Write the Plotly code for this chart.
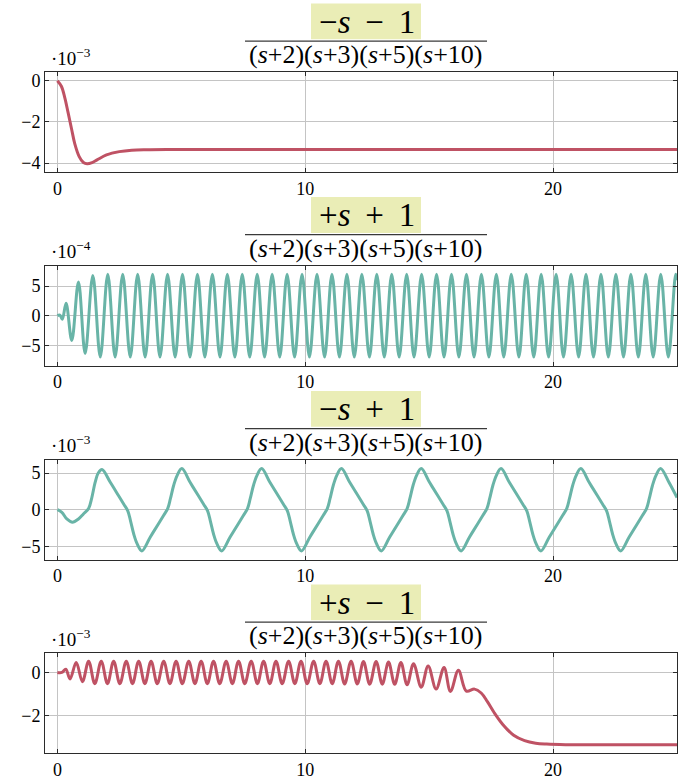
import plotly.graph_objects as go

# ---------------- data (y values in units of the axis multiplier) ----------------
# Plot 1 : (-s-1)/(...)   values x 1e-3
t1 = [0, 0.16, 0.3, 0.43, 0.57, 0.7, 0.88, 1.05, 1.2, 1.4, 1.6, 1.98, 2.5, 3.0, 3.6, 4.5, 6.0, 10.0, 15.0, 20.0, 25.0]
y1 = [0, -0.27, -0.83, -1.54, -2.33, -3.05, -3.68, -3.97, -4.03, -3.97, -3.84, -3.6, -3.44, -3.37, -3.345, -3.335, -3.333, -3.333, -3.333, -3.333, -3.333]

# Plot 2 : (+s+1)/(...)   values x 1e-4  (start, then peaks / troughs)
t2_start = [0, 0.1, 0.2, 0.35, 0.58, 0.85, 1.12]
y2_start = [0, 0.1, -0.6, 2.1, -4.2, 5.7, -6.4]
t2_peaks = [1.43, 2.033, 2.636, 3.239, 3.842, 4.445, 5.048, 5.651, 6.254, 6.857,
            7.46, 8.063, 8.666, 9.269, 9.872, 10.475, 11.078, 11.681, 12.284, 12.887,
            13.49, 14.093, 14.696, 15.299, 15.902, 16.505, 17.108, 17.711, 18.314, 18.917,
            19.52, 20.123, 20.726, 21.329, 21.932, 22.535, 23.138, 23.741, 24.344, 24.947]
y2_peaks = [6.8] + [7.0] * 39
t2_troughs = [1.73, 2.33, 2.94, 3.54, 4.14, 4.75, 5.35, 5.95, 6.56, 7.16,
              7.76, 8.36, 8.97, 9.57, 10.17, 10.78, 11.38, 11.98, 12.59, 13.19,
              13.79, 14.39, 15.00, 15.60, 16.20, 16.81, 17.41, 18.01, 18.62, 19.22,
              19.82, 20.42, 21.03, 21.63, 22.23, 22.84, 23.44, 24.04, 24.65]
y2_troughs = [-7.0] * 39
t2_end = [25.0]
y2_end = [6.0]

# Plot 3 : (-s+1)/(...)   values x 1e-3
t3 = [0, 0.18, 0.38, 0.61, 0.85, 1.05, 1.26, 1.39, 1.52, 1.65, 1.8,
      2.14, 2.47, 2.68, 2.84, 2.95, 3.08, 3.22, 3.41, 3.75, 4.08, 4.29, 4.45, 4.56, 4.69, 4.83, 5.02,
      5.36, 5.69, 5.90, 6.06, 6.17, 6.30, 6.44, 6.63, 6.97, 7.30, 7.51, 7.67, 7.78, 7.91, 8.05, 8.24,
      8.58, 8.91, 9.12, 9.28, 9.39, 9.52, 9.66, 9.85, 10.19, 10.52, 10.73, 10.89, 11.00, 11.13, 11.27, 11.46,
      11.80, 12.13, 12.34, 12.50, 12.61, 12.74, 12.88, 13.07, 13.41, 13.74, 13.95, 14.11, 14.22, 14.35, 14.49, 14.68,
      15.02, 15.35, 15.56, 15.72, 15.83, 15.96, 16.10, 16.29, 16.63, 16.96, 17.17, 17.33, 17.44, 17.57, 17.71, 17.90,
      18.24, 18.57, 18.78, 18.94, 19.05, 19.18, 19.32, 19.51, 19.85, 20.18, 20.39, 20.55, 20.66, 20.79, 20.93, 21.12,
      21.46, 21.79, 22.00, 22.16, 22.27, 22.40, 22.54, 22.73, 23.07, 23.40, 23.61, 23.77, 23.88, 24.01, 24.15, 24.34,
      24.68, 25.0]
y3 = [0, -0.36, -1.26, -1.7, -1.26, -0.58, 0.18, 1.66, 3.68, 5.0, 5.47,
      3.7, 1.9, 0.75, -0.15, -1.5, -3.3, -4.65, -5.6, -3.7, -1.9, -0.75, 0.15, 1.5, 3.3, 4.65, 5.6,
      3.7, 1.9, 0.75, -0.15, -1.5, -3.3, -4.65, -5.6, -3.7, -1.9, -0.75, 0.15, 1.5, 3.3, 4.65, 5.6,
      3.7, 1.9, 0.75, -0.15, -1.5, -3.3, -4.65, -5.6, -3.7, -1.9, -0.75, 0.15, 1.5, 3.3, 4.65, 5.6,
      3.7, 1.9, 0.75, -0.15, -1.5, -3.3, -4.65, -5.6, -3.7, -1.9, -0.75, 0.15, 1.5, 3.3, 4.65, 5.6,
      3.7, 1.9, 0.75, -0.15, -1.5, -3.3, -4.65, -5.6, -3.7, -1.9, -0.75, 0.15, 1.5, 3.3, 4.65, 5.6,
      3.7, 1.9, 0.75, -0.15, -1.5, -3.3, -4.65, -5.6, -3.7, -1.9, -0.75, 0.15, 1.5, 3.3, 4.65, 5.6,
      3.7, 1.9, 0.75, -0.15, -1.5, -3.3, -4.65, -5.6, -3.7, -1.9, -0.75, 0.15, 1.5, 3.3, 4.65, 5.6,
      3.7, 1.66]

# Plot 4 : (+s-1)/(...)   values x 1e-3
t4_start = [0, 0.18, 0.34, 0.51]
y4_start = [0, 0.0, 0.15, -0.3]
t4_peaks = [0.76, 1.26, 1.77, 2.27, 2.78, 3.28, 3.78, 4.29, 4.79, 5.30,
            5.80, 6.30, 6.81, 7.31, 7.82, 8.32, 8.82, 9.33, 9.83, 10.34,
            10.84, 11.34, 11.85, 12.35, 12.86, 13.36, 13.86, 14.37, 14.96, 15.6, 16.18]
y4_peaks = [0.46, 0.52, 0.52, 0.52, 0.52, 0.52, 0.52, 0.52, 0.52, 0.52,
            0.52, 0.52, 0.52, 0.52, 0.52, 0.52, 0.52, 0.52, 0.52, 0.52,
            0.52, 0.52, 0.52, 0.5, 0.5, 0.48, 0.46, 0.4, 0.3, 0.23, 0.1]
t4_troughs = [1.01, 1.51, 2.02, 2.52, 3.03, 3.53, 4.03, 4.54, 5.04, 5.55,
              6.05, 6.55, 7.06, 7.56, 8.07, 8.57, 9.07, 9.58, 10.08, 10.59,
              11.09, 11.59, 12.10, 12.60, 13.11, 13.61, 14.11, 14.68, 15.28, 15.86]
y4_troughs = [-0.43, -0.52, -0.52, -0.52, -0.52, -0.52, -0.52, -0.52, -0.52, -0.52,
              -0.52, -0.52, -0.52, -0.52, -0.52, -0.52, -0.52, -0.52, -0.52, -0.52,
              -0.52, -0.53, -0.53, -0.54, -0.54, -0.55, -0.57, -0.68, -0.77, -0.88]
t4_tail = [16.5, 16.83, 17.1, 17.35, 17.62, 17.97, 18.41, 18.85, 19.3, 19.74, 20.5, 22.0, 25.0]
y4_tail = [-0.86, -0.77, -0.95, -1.35, -1.85, -2.4, -2.9, -3.15, -3.27, -3.31, -3.335, -3.34, -3.34]

SP = "\u2009\u00a0"
numerators = ["−<i>s</i>" + SP + "−" + SP + "1", "+<i>s</i>" + SP + "+" + SP + "1",
              "−<i>s</i>" + SP + "+" + SP + "1", "+<i>s</i>" + SP + "−" + SP + "1"]
denominator = "(<i>s</i>+2)(<i>s</i>+3)(<i>s</i>+5)(<i>s</i>+10)"
exponents = ["−3", "−4", "−3", "−3"]
y_tickvals = [[-4, -2, 0], [-5, 0, 5], [-5, 0, 5], [-2, 0]]
y_ticktext = [["−4", "−2", "0"], ["−5", "0", "5"], ["−5", "0", "5"], ["−2", "0"]]
y_ranges = [[-4.43, 0.40], [-8.45, 8.4], [-6.78, 6.78], [-3.72, 0.88]]
x_tickvals = [0, 10, 20]
x_range = [-0.5, 25.0]

RED = "#bf5264"
TEAL = "#69b4a7"
colors = [RED, TEAL, TEAL, RED]


def merge(*pairs):
    pts = []
    for ts, ys in pairs:
        pts.extend(zip(ts, ys))
    pts.sort(key=lambda p: p[0])
    return [p[0] for p in pts], [p[1] for p in pts]


series = [
    (t1, y1),
    merge((t2_start, y2_start), (t2_peaks, y2_peaks), (t2_troughs, y2_troughs), (t2_end, y2_end)),
    (t3, y3),
    merge((t4_start, y4_start), (t4_peaks, y4_peaks), (t4_troughs, y4_troughs), (t4_tail, y4_tail)),
]

W, H = 685, 780
FONT = "Liberation Serif"
offsets = [0, 194.3, 389.0, 583.2]


def py(px):
    return (H - px) / H


def pxx(px):
    return px / W


fig = go.Figure()
shapes = []
annotations = []
layout = dict(width=W, height=H, autosize=False,
              margin=dict(l=0, r=0, t=0, b=0),
              paper_bgcolor="white", plot_bgcolor="white",
              showlegend=False)

for i in range(4):
    off = offsets[i]
    xs, ys = series[i]
    sfx = "" if i == 0 else str(i + 1)
    fig.add_trace(go.Scatter(x=xs, y=ys, mode="lines",
                             line=dict(color=colors[i], width=3, shape="spline", smoothing=1.0),
                             xaxis="x" + sfx, yaxis="y" + sfx, hoverinfo="skip"))
    top, bottom = 71.7 + off, 171.7 + off
    axcommon = dict(showline=True, mirror="ticks", linecolor="#2b2b2b", linewidth=1,
                    ticks="inside", ticklen=4, tickcolor="#2b2b2b", tickwidth=1,
                    showgrid=True, gridcolor="#c4c4c4", gridwidth=1, zeroline=False,
                    tickfont=dict(family=FONT, size=18, color="black"))
    layout["xaxis" + sfx] = dict(axcommon, domain=[pxx(45), pxx(677)], range=x_range,
                                 tickvals=x_tickvals, ticktext=[str(v) for v in x_tickvals],
                                 anchor="y" + sfx)
    layout["yaxis" + sfx] = dict(axcommon, domain=[py(bottom), py(top)], range=y_ranges[i],
                                 tickvals=y_tickvals[i], ticktext=y_ticktext[i],
                                 anchor="x" + sfx)
    # highlight behind numerator
    shapes.append(dict(type="rect", xref="paper", yref="paper",
                       x0=pxx(311), x1=pxx(421), y0=py(38.5 + off), y1=py(2.5 + off),
                       fillcolor="#eaedb6", line=dict(width=0), layer="below"))
    # fraction bar
    shapes.append(dict(type="line", xref="paper", yref="paper",
                       x0=pxx(245), x1=pxx(487), y0=py(40.3 + off), y1=py(40.3 + off),
                       line=dict(color="#3a3a3a", width=1.2)))
    annotations.append(dict(text=numerators[i], xref="paper", yref="paper",
                            x=pxx(367), y=py(21 + off), xanchor="center", yanchor="middle",
                            showarrow=False, font=dict(family=FONT, size=33, color="black")))
    annotations.append(dict(text=denominator, xref="paper", yref="paper",
                            x=pxx(366), y=py(54 + off), xanchor="center", yanchor="middle",
                            showarrow=False, font=dict(family=FONT, size=26, color="black")))
    annotations.append(dict(text="·10<sup>" + exponents[i] + "</sup>", xref="paper", yref="paper",
                            x=pxx(49), y=py(70 + off), xanchor="left", yanchor="bottom",
                            showarrow=False, font=dict(family=FONT, size=19, color="black")))

layout["shapes"] = shapes
layout["annotations"] = annotations
fig.update_layout(**layout)
fig.write_html("out.html", config={"displayModeBar": False, "staticPlot": True},
               post_script="document.body.style.margin='0';document.body.style.padding='0';")
